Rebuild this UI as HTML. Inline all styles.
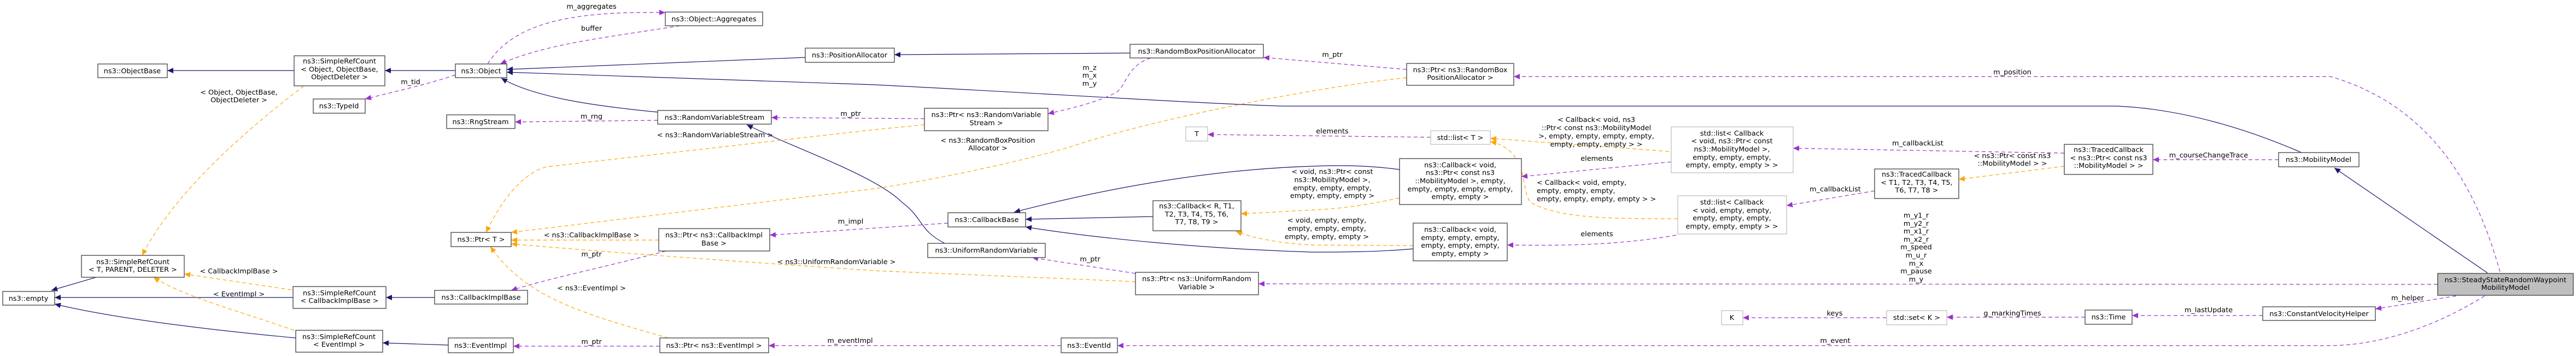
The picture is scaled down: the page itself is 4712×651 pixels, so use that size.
<!DOCTYPE html>
<html><head><meta charset="utf-8"><style>
html,body{margin:0;padding:0;background:#fff;width:4712px;height:651px;overflow:hidden}
svg{display:block}
text{font-family:"DejaVu Sans","Liberation Sans",sans-serif;font-size:12.8px;fill:#000}
.n{fill:#fff;stroke:#404040;stroke-width:1.3}
.g{fill:#fff;stroke:#bfbfbf;stroke-width:1.3}
.nv{fill:none;stroke:#191970;stroke-width:1.2}
.pu{fill:none;stroke:#9a32cd;stroke-width:1.2;stroke-dasharray:7,5}
.or{fill:none;stroke:#ffa500;stroke-width:1.2;stroke-dasharray:7,5}
</style></head><body>
<svg width="4712" height="651" viewBox="0 0 4712 651" xmlns="http://www.w3.org/2000/svg">
<defs>
<marker id="an" markerUnits="userSpaceOnUse" markerWidth="12" markerHeight="10" refX="11" refY="5" orient="auto"><path d="M0,0 L11,5 L0,10 z" fill="#191970"/></marker>
<marker id="ap" markerUnits="userSpaceOnUse" markerWidth="12" markerHeight="10" refX="11" refY="5" orient="auto"><path d="M0,0 L11,5 L0,10 z" fill="#9a32cd"/></marker>
<marker id="ao" markerUnits="userSpaceOnUse" markerWidth="12" markerHeight="10" refX="11" refY="5" orient="auto"><path d="M0,0 L11,5 L0,10 z" fill="#ffa500"/></marker>
</defs>

<!-- edges navy -->
<path class="nv" marker-end="url(#an)" d="M538,129 L306,129"/>
<path class="nv" marker-end="url(#an)" d="M833,129 L704,129"/>
<path class="nv" marker-end="url(#an)" d="M176,507 L94,531"/>
<path class="nv" marker-end="url(#an)" d="M536,544 L100,544"/>
<path class="nv" marker-end="url(#an)" d="M541,618 C350,600 200,580 100,556"/>
<path class="nv" marker-end="url(#an)" d="M795,544 L706,544"/>
<path class="nv" marker-end="url(#an)" d="M820,631 L700,627"/>
<path class="nv" marker-end="url(#an)" d="M1473,105 L927,127"/>
<path class="nv" marker-end="url(#an)" d="M4210,279 C4120,240 4000,200 3873,194 L2350,194 C2200,190 1900,170 1600,155 L927,132"/>
<path class="nv" marker-end="url(#an)" d="M1203,205 C1100,195 980,180 917,143"/>
<path class="nv" marker-end="url(#an)" d="M1728,445 C1680,420 1690,400 1650,370 C1600,320 1450,270 1366,228"/>
<path class="nv" marker-end="url(#an)" d="M2067,97 L1636,100"/>
<path class="nv" marker-end="url(#an)" d="M2560,310 C2500,302 2450,302 2400,304 C2200,310 2000,350 1855,388"/>
<path class="nv" marker-end="url(#an)" d="M2109,396 L1876,401"/>
<path class="nv" marker-end="url(#an)" d="M2585,455 C2520,461 2450,461 2400,461 C2200,455 2000,435 1876,415"/>
<path class="nv" marker-end="url(#an)" d="M4550,499 L4270,307"/>

<!-- edges purple -->
<path class="pu" marker-end="url(#ap)" d="M833,137 C790,152 720,168 668,181"/>
<path class="pu" marker-end="url(#ap)" d="M892,117 C940,40 1050,20 1217,23"/>
<path class="pu" marker-end="url(#ap)" d="M1244,47 C1100,70 1000,80 915,117"/>
<path class="pu" marker-end="url(#ap)" d="M1203,220 L942,223"/>
<path class="pu" marker-end="url(#ap)" d="M1691,217 L1411,215"/>
<path class="pu" marker-end="url(#ap)" d="M1218,459 C1100,490 1000,510 935,531"/>
<path class="pu" marker-end="url(#ap)" d="M1734,408 L1408,430"/>
<path class="pu" marker-end="url(#ap)" d="M1207,633 L939,633"/>
<path class="pu" marker-end="url(#ap)" d="M1941,632 L1406,632"/>
<path class="pu" marker-end="url(#ap)" d="M2105,106 C2060,120 2060,160 2040,170 C2000,190 1950,200 1917,208"/>
<path class="pu" marker-end="url(#ap)" d="M2573,127 L2311,105"/>
<path class="pu" marker-end="url(#ap)" d="M2617,251 L2209,246"/>
<path class="pu" marker-end="url(#ap)" d="M2077,500 L1888,471"/>
<path class="pu" marker-end="url(#ap)" d="M4459,520 L2302,519"/>
<path class="pu" marker-end="url(#ap)" d="M4545,541 C4450,600 4350,632 4259,632 L2044,632"/>
<path class="pu" marker-end="url(#ap)" d="M3057,296 L2783,323"/>
<path class="pu" marker-end="url(#ap)" d="M3066,430 C2950,450 2850,449 2757,448"/>
<path class="pu" marker-end="url(#ap)" d="M4573,497 C4540,380 4470,200 4263,140 L2769,140"/>
<path class="pu" marker-end="url(#ap)" d="M3776,280 L3280,271"/>
<path class="pu" marker-end="url(#ap)" d="M3429,349 L3268,376"/>
<path class="pu" marker-end="url(#ap)" d="M4168,292 L3938,292"/>
<path class="pu" marker-end="url(#ap)" d="M3451,581 L3188,581"/>
<path class="pu" marker-end="url(#ap)" d="M3814,580 L3561,580"/>
<path class="pu" marker-end="url(#ap)" d="M4139,577 L3900,577"/>
<path class="pu" marker-end="url(#ap)" d="M4493,541 L4345,565"/>

<!-- edges orange -->
<path class="or" marker-end="url(#ao)" d="M556,157 C500,200 330,330 260,467"/>
<path class="or" marker-end="url(#ao)" d="M533,530 L337,501"/>
<path class="or" marker-end="url(#ao)" d="M538,604 C440,570 330,540 281,507"/>
<path class="or" marker-end="url(#ao)" d="M1691,228 L1600,237 L1000,305 C960,315 920,360 889,425"/>
<path class="or" marker-end="url(#ao)" d="M2573,142 C2400,160 2100,220 1960,268 C1850,300 1700,330 1600,345 L935,425"/>
<path class="or" marker-end="url(#ao)" d="M1205,439 L935,439"/>
<path class="or" marker-end="url(#ao)" d="M2077,515 L1600,495 C1300,475 1100,460 935,446"/>
<path class="or" marker-end="url(#ao)" d="M1223,618 C1050,570 960,540 897,451"/>
<path class="or" marker-end="url(#ao)" d="M2560,362 C2500,375 2450,382 2400,384 L2270,391"/>
<path class="or" marker-end="url(#ao)" d="M2585,449 L2400,448 C2340,445 2290,435 2261,423"/>
<path class="or" marker-end="url(#ao)" d="M3053,277 L2726,253"/>
<path class="or" marker-end="url(#ao)" d="M3069,400 C2950,400 2850,400 2800,370 C2780,350 2800,275 2726,259"/>
<path class="or" marker-end="url(#ao)" d="M3776,304 L3583,328"/>

<!-- nodes -->
<g>
<rect class="n" x="179" y="117" width="127" height="25"/><text x="242" y="134" text-anchor="middle">ns3::ObjectBase</text>
<rect class="n" x="538" y="102" width="166" height="55"/><text x="621" y="116" text-anchor="middle">ns3::SimpleRefCount</text><text x="621" y="131" text-anchor="middle">&lt; Object, ObjectBase,</text><text x="621" y="145" text-anchor="middle">ObjectDeleter &gt;</text>
<rect class="n" x="573" y="181" width="95" height="26"/><text x="620" y="198" text-anchor="middle">ns3::TypeId</text>
<rect class="n" x="149" y="467" width="188" height="40"/><text x="243" y="483" text-anchor="middle">ns3::SimpleRefCount</text><text x="243" y="497" text-anchor="middle">&lt; T, PARENT, DELETER &gt;</text>
<rect class="n" x="5" y="533" width="95" height="25"/><text x="52" y="550" text-anchor="middle">ns3::empty</text>
<rect class="n" x="536" y="524" width="170" height="40"/><text x="621" y="540" text-anchor="middle">ns3::SimpleRefCount</text><text x="621" y="554" text-anchor="middle">&lt; CallbackImplBase &gt;</text>
<rect class="n" x="541" y="604" width="159" height="40"/><text x="620" y="620" text-anchor="middle">ns3::SimpleRefCount</text><text x="620" y="634" text-anchor="middle">&lt; EventImpl &gt;</text>
<rect class="n" x="1217" y="22" width="178" height="25"/><text x="1306" y="39" text-anchor="middle">ns3::Object::Aggregates</text>
<rect class="n" x="833" y="117" width="94" height="25"/><text x="880" y="134" text-anchor="middle">ns3::Object</text>
<rect class="n" x="1473" y="88" width="163" height="26"/><text x="1554" y="105" text-anchor="middle">ns3::PositionAllocator</text>
<rect class="n" x="817" y="210" width="125" height="25"/><text x="879" y="227" text-anchor="middle">ns3::RngStream</text>
<rect class="n" x="1203" y="202" width="208" height="25"/><text x="1307" y="219" text-anchor="middle">ns3::RandomVariableStream</text>
<rect class="n" x="825" y="425" width="110" height="26"/><text x="880" y="442" text-anchor="middle">ns3::Ptr&lt; T &gt;</text>
<rect class="n" x="1205" y="418" width="203" height="41"/><text x="1306" y="434" text-anchor="middle">ns3::Ptr&lt; ns3::CallbackImpl</text><text x="1306" y="449" text-anchor="middle">Base &gt;</text>
<rect class="n" x="795" y="531" width="170" height="25"/><text x="880" y="548" text-anchor="middle">ns3::CallbackImplBase</text>
<rect class="n" x="820" y="618" width="119" height="27"/><text x="879" y="636" text-anchor="middle">ns3::EventImpl</text>
<rect class="n" x="1207" y="618" width="199" height="27"/><text x="1306" y="636" text-anchor="middle">ns3::Ptr&lt; ns3::EventImpl &gt;</text>
<rect class="n" x="2067" y="81" width="244" height="25"/><text x="2189" y="98" text-anchor="middle">ns3::RandomBoxPositionAllocator</text>
<rect class="n" x="1691" y="198" width="226" height="41"/><text x="1804" y="214" text-anchor="middle">ns3::Ptr&lt; ns3::RandomVariable</text><text x="1804" y="229" text-anchor="middle">Stream &gt;</text>
<rect class="g" x="2169" y="232" width="40" height="26"/><text x="2189" y="249" text-anchor="middle">T</text>
<rect class="n" x="1734" y="389" width="142" height="26"/><text x="1805" y="406" text-anchor="middle">ns3::CallbackBase</text>
<rect class="n" x="2109" y="367" width="161" height="55"/><text x="2189" y="381" text-anchor="middle">ns3::Callback&lt; R, T1,</text><text x="2189" y="396" text-anchor="middle">T2, T3, T4, T5, T6,</text><text x="2189" y="410" text-anchor="middle">T7, T8, T9 &gt;</text>
<rect class="n" x="1697" y="445" width="215" height="26"/><text x="1804" y="462" text-anchor="middle">ns3::UniformRandomVariable</text>
<rect class="n" x="2077" y="498" width="225" height="41"/><text x="2189" y="514" text-anchor="middle">ns3::Ptr&lt; ns3::UniformRandom</text><text x="2189" y="529" text-anchor="middle">Variable &gt;</text>
<rect class="n" x="1941" y="618" width="103" height="27"/><text x="1992" y="636" text-anchor="middle">ns3::EventId</text>
<rect class="n" x="2573" y="116" width="196" height="40"/><text x="2671" y="132" text-anchor="middle">ns3::Ptr&lt; ns3::RandomBox</text><text x="2671" y="146" text-anchor="middle">PositionAllocator &gt;</text>
<rect class="g" x="2617" y="239" width="109" height="25"/><text x="2671" y="256" text-anchor="middle">std::list&lt; T &gt;</text>
<rect class="n" x="2560" y="290" width="223" height="84"/><text x="2671" y="306" text-anchor="middle">ns3::Callback&lt; void,</text><text x="2671" y="320" text-anchor="middle">ns3::Ptr&lt; const ns3</text><text x="2671" y="335" text-anchor="middle">::MobilityModel &gt;, empty,</text><text x="2671" y="350" text-anchor="middle">empty, empty, empty, empty,</text><text x="2671" y="364" text-anchor="middle">empty, empty &gt;</text>
<rect class="n" x="2585" y="408" width="172" height="69"/><text x="2671" y="424" text-anchor="middle">ns3::Callback&lt; void,</text><text x="2671" y="439" text-anchor="middle">empty, empty, empty,</text><text x="2671" y="453" text-anchor="middle">empty, empty, empty,</text><text x="2671" y="468" text-anchor="middle">empty, empty &gt;</text>
<rect class="g" x="3057" y="232" width="223" height="84"/><text x="3168" y="248" text-anchor="middle">std::list&lt; Callback</text><text x="3168" y="262" text-anchor="middle">&lt; void, ns3::Ptr&lt; const</text><text x="3168" y="277" text-anchor="middle">ns3::MobilityModel &gt;,</text><text x="3168" y="292" text-anchor="middle">empty, empty, empty,</text><text x="3168" y="306" text-anchor="middle">empty, empty, empty &gt; &gt;</text>
<rect class="g" x="3069" y="358" width="199" height="70"/><text x="3168" y="374" text-anchor="middle">std::list&lt; Callback</text><text x="3168" y="389" text-anchor="middle">&lt; void, empty, empty,</text><text x="3168" y="403" text-anchor="middle">empty, empty, empty,</text><text x="3168" y="418" text-anchor="middle">empty, empty, empty &gt; &gt;</text>
<rect class="g" x="3149" y="568" width="39" height="26"/><text x="3168" y="585" text-anchor="middle">K</text>
<rect class="n" x="3776" y="264" width="162" height="55"/><text x="3857" y="278" text-anchor="middle">ns3::TracedCallback</text><text x="3857" y="293" text-anchor="middle">&lt; ns3::Ptr&lt; const ns3</text><text x="3857" y="307" text-anchor="middle">::MobilityModel &gt; &gt;</text>
<rect class="n" x="3429" y="309" width="154" height="54"/><text x="3506" y="323" text-anchor="middle">ns3::TracedCallback</text><text x="3506" y="338" text-anchor="middle">&lt; T1, T2, T3, T4, T5,</text><text x="3506" y="352" text-anchor="middle">T6, T7, T8 &gt;</text>
<rect class="g" x="3451" y="568" width="110" height="26"/><text x="3506" y="585" text-anchor="middle">std::set&lt; K &gt;</text>
<rect class="n" x="3814" y="567" width="86" height="26"/><text x="3857" y="584" text-anchor="middle">ns3::Time</text>
<rect class="n" x="4168" y="279" width="147" height="26"/><text x="4241" y="296" text-anchor="middle">ns3::MobilityModel</text>
<rect x="4459" y="500" width="248" height="40" fill="#bfbfbf" stroke="#404040" stroke-width="1.3"/><text x="4583" y="516" text-anchor="middle">ns3::SteadyStateRandomWaypoint</text><text x="4583" y="530" text-anchor="middle">MobilityModel</text>
<rect class="n" x="4139" y="561" width="206" height="25"/><text x="4242" y="578" text-anchor="middle">ns3::ConstantVelocityHelper</text>
</g>

<!-- edge labels -->
<g text-anchor="middle">
<text x="437" y="173">&lt; Object, ObjectBase,</text><text x="437" y="187">ObjectDeleter &gt;</text>
<text x="437" y="500">&lt; CallbackImplBase &gt;</text>
<text x="437" y="542">&lt; EventImpl &gt;</text>
<text x="751" y="154">m_tid</text>
<text x="1082" y="16">m_aggregates</text>
<text x="1082" y="56">buffer</text>
<text x="1082" y="217">m_rng</text>
<text x="1556" y="212">m_ptr</text>
<text x="1308" y="251">&lt; ns3::RandomVariableStream &gt;</text>
<text x="1556" y="409">m_impl</text>
<text x="1082" y="434">&lt; ns3::CallbackImplBase &gt;</text>
<text x="1082" y="469">m_ptr</text>
<text x="1530" y="483">&lt; ns3::UniformRandomVariable &gt;</text>
<text x="1082" y="531">&lt; ns3::EventImpl &gt;</text>
<text x="1082" y="629">m_ptr</text>
<text x="1555" y="627">m_eventImpl</text>
<text x="1993" y="128">m_z</text><text x="1993" y="142">m_x</text><text x="1993" y="157">m_y</text>
<text x="1807" y="261">&lt; ns3::RandomBoxPosition</text><text x="1807" y="275">Allocator &gt;</text>
<text x="1994" y="478">m_ptr</text>
<text x="2437" y="104">m_ptr</text>
<text x="2437" y="244">elements</text>
<text x="2437" y="318">&lt; void, ns3::Ptr&lt; const</text><text x="2437" y="333">ns3::MobilityModel &gt;,</text><text x="2437" y="348">empty, empty, empty,</text><text x="2437" y="362">empty, empty, empty &gt;</text>
<text x="2427" y="407">&lt; void, empty, empty,</text><text x="2427" y="422">empty, empty, empty,</text><text x="2427" y="437">empty, empty, empty &gt;</text>
<text x="2920" y="223">&lt; Callback&lt; void, ns3</text><text x="2920" y="238">::Ptr&lt; const ns3::MobilityModel</text><text x="2920" y="253">&gt;, empty, empty, empty, empty,</text><text x="2920" y="268">empty, empty, empty &gt; &gt;</text>
<text x="2921" y="294">elements</text>
<text x="2811" y="338" text-anchor="start">&lt; Callback&lt; void, empty,</text><text x="2811" y="353" text-anchor="start">empty, empty, empty,</text><text x="2811" y="368" text-anchor="start">empty, empty, empty, empty &gt; &gt;</text>
<text x="2921" y="432">elements</text>
<text x="3681" y="136">m_position</text>
<text x="3508" y="266">m_callbackList</text>
<text x="3681" y="289">&lt; ns3::Ptr&lt; const ns3</text><text x="3681" y="303">::MobilityModel &gt; &gt;</text>
<text x="3357" y="350">m_callbackList</text>
<text x="3505" y="398">m_y1_r</text><text x="3505" y="413">m_y2_r</text><text x="3505" y="427">m_x1_r</text><text x="3505" y="442">m_x2_r</text><text x="3505" y="456">m_speed</text><text x="3505" y="471">m_u_r</text><text x="3505" y="486">m_x</text><text x="3505" y="500">m_pause</text><text x="3505" y="515">m_y</text>
<text x="3356" y="577">keys</text>
<text x="3681" y="577">g_markingTimes</text>
<text x="3357" y="627">m_event</text>
<text x="4040" y="288">m_courseChangeTrace</text>
<text x="4040" y="571">m_lastUpdate</text>
<text x="4404" y="549">m_helper</text>
</g>
</svg>
</body></html>
